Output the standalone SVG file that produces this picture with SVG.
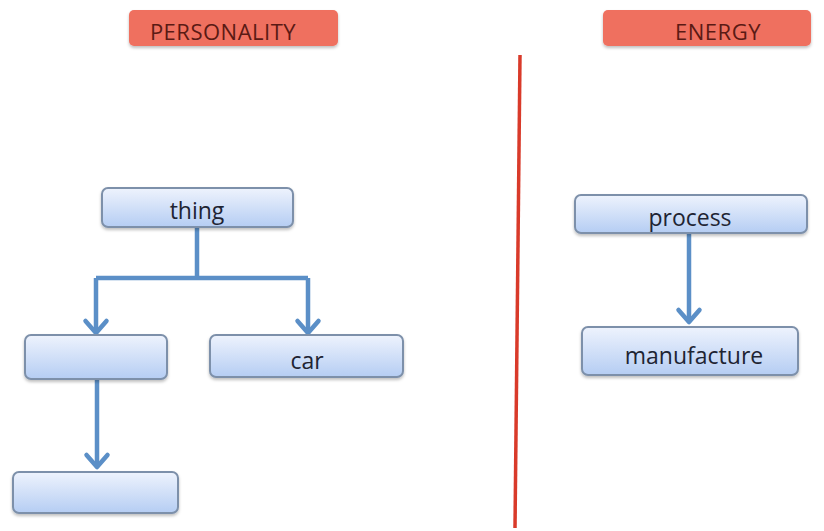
<svg xmlns="http://www.w3.org/2000/svg" width="824" height="531" viewBox="0 0 824 531">
<defs>
<linearGradient id="nodeGrad" x1="0" y1="0" x2="0" y2="1">
<stop offset="0" stop-color="#eef3fd"/>
<stop offset="1" stop-color="#b5cdf3"/>
</linearGradient>
<filter id="sh" x="-10%" y="-20%" width="120%" height="150%">
<feDropShadow dx="0" dy="2" stdDeviation="1.5" flood-color="#000" flood-opacity="0.25"/>
</filter>
<marker id="ah" viewBox="-16 -14 20 28" refX="0" refY="0" markerWidth="20" markerHeight="28" markerUnits="userSpaceOnUse" orient="auto">
<path d="M-12,-10.5 L0,0 L-12,10.5" fill="none" stroke="#5b8fc7" stroke-width="4.5" stroke-linecap="round" stroke-linejoin="round"/>
</marker>
</defs>
<style>
.node rect{fill:url(#nodeGrad);stroke:#7d90aa;stroke-width:2;filter:url(#sh)}
.node text{font-family:"Open Sans","Liberation Sans",sans-serif;font-size:23px;fill:#1e2433;text-anchor:middle}
.title rect{fill:#ef6f5f;filter:url(#sh)}
.title text{font-family:"Open Sans","Liberation Sans",sans-serif;font-size:22px;font-weight:500;fill:#5a1a14;text-anchor:middle;letter-spacing:0.5px}
.conn path{fill:none;stroke:#5b8fc7;stroke-width:4.5;stroke-linejoin:round}
</style>
<rect width="824" height="531" fill="#ffffff"/>
<g id="title-personality" class="title"><rect x="129" y="10" width="209" height="36" rx="5"/><text x="223" y="40">PERSONALITY</text></g>
<g id="title-energy" class="title"><rect x="603" y="10" width="208" height="36" rx="5"/><text x="718" y="40">ENERGY</text></g>
<line id="divider" x1="520" y1="55" x2="515" y2="528" stroke="#d93a2a" stroke-width="3.5"/>
<g id="connectors" class="conn">
<path d="M197,227 V278"/>
<path d="M96,278 H308"/>
<path d="M96,278 V333" marker-end="url(#ah)"/>
<path d="M308,278 V333" marker-end="url(#ah)"/>
<path d="M97,380 V467" marker-end="url(#ah)"/>
<path d="M689,233 V322" marker-end="url(#ah)"/>
</g>
<g id="node-thing" class="node"><rect x="102" y="188" width="191" height="39" rx="6"/><text x="197" y="219">thing</text></g>
<g id="node-blank1" class="node"><rect x="25" y="335" width="142" height="44" rx="6"/></g>
<g id="node-car" class="node"><rect x="210" y="335" width="193" height="42" rx="6"/><text x="307" y="369">car</text></g>
<g id="node-blank2" class="node"><rect x="13" y="472" width="165" height="41" rx="6"/></g>
<g id="node-process" class="node"><rect x="575" y="195" width="232" height="38" rx="6"/><text x="690" y="226">process</text></g>
<g id="node-manufacture" class="node"><rect x="582" y="327" width="216" height="48" rx="6"/><text x="694" y="364">manufacture</text></g>
</svg>
